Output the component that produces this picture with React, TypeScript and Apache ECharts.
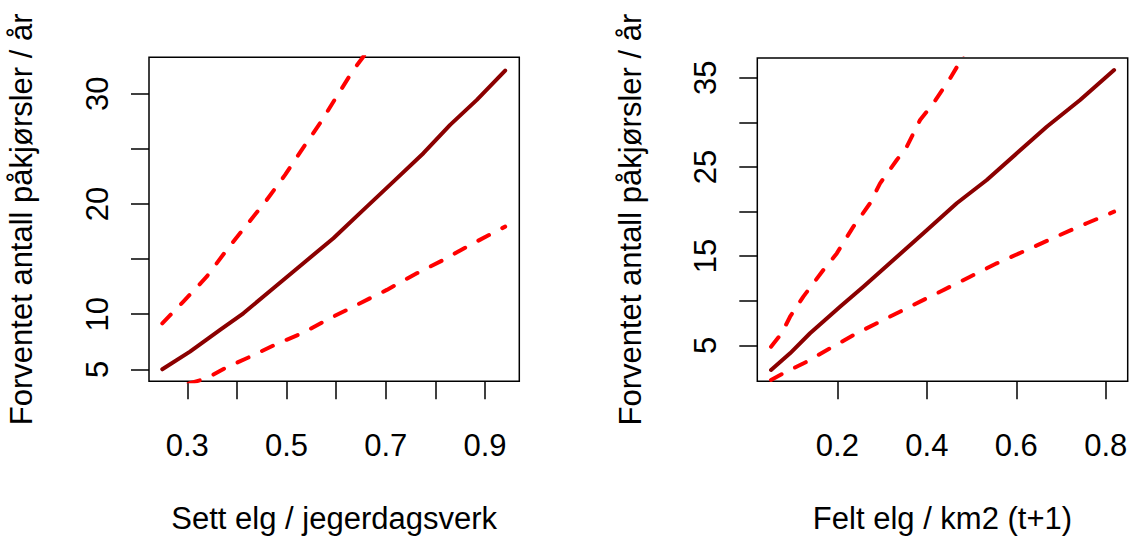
import React, { useEffect, useRef } from "react";
import * as echarts from "echarts";

// Left panel: Sett elg / jegerdagsverk
const sightFitX = [0.2496, 0.3054, 0.366, 0.413, 0.4734, 0.5339, 0.5944, 0.6548, 0.7153, 0.7758, 0.8296, 0.8835, 0.9405];
const sightFit = [5.0, 6.6, 8.57, 10.08, 12.35, 14.62, 16.89, 19.46, 22.02, 24.6, 27.17, 29.44, 32.1];
const sightUpperX = [0.2496, 0.292, 0.339, 0.3794, 0.4198, 0.46, 0.497, 0.5306, 0.5675, 0.601, 0.6347, 0.655, 0.7];
const sightUpper = [9.17, 11.13, 13.4, 15.83, 18.1, 20.36, 22.63, 24.9, 27.32, 29.74, 32.16, 33.37, 36.9];
const sightLowerX = [0.2496, 0.3054, 0.339, 0.3794, 0.4198, 0.4803, 0.5339, 0.5877, 0.6482, 0.702, 0.7625, 0.8161, 0.87, 0.9405];
const sightLower = [3.0, 3.73, 4.18, 5.18, 6.0, 7.3, 8.32, 9.63, 10.99, 12.2, 13.71, 14.92, 16.28, 17.94];

// Right panel: Felt elg / km2 (t+1)
const shotFitX = [0.0518, 0.0943, 0.139, 0.206, 0.2581, 0.3252, 0.3923, 0.4669, 0.534, 0.6011, 0.6681, 0.7426, 0.8186];
const shotFit = [2.23, 4.1, 6.35, 9.33, 11.57, 14.56, 17.56, 20.92, 23.53, 26.52, 29.5, 32.5, 35.86];
const shotUpperX = [0.0518, 0.0757, 0.0943, 0.124, 0.1687, 0.1987, 0.2358, 0.2731, 0.2955, 0.3328, 0.3551, 0.3849, 0.4146, 0.452, 0.4743, 0.5];
const shotUpper = [4.84, 6.35, 8.2, 10.45, 13.44, 15.3, 18.3, 20.92, 23.16, 25.77, 27.26, 30.26, 32.13, 34.93, 36.79, 39.5];
const shotLowerX = [0.0518, 0.0793, 0.1316, 0.1837, 0.2434, 0.3028, 0.3699, 0.4296, 0.4967, 0.5564, 0.6234, 0.6979, 0.7575, 0.8186];
const shotLower = [1.11, 1.86, 3.16, 4.66, 6.35, 7.84, 9.52, 11.0, 12.69, 14.19, 15.68, 17.37, 18.68, 19.98];

// Ticks and labels
const leftXTicks = [0.3, 0.4, 0.5, 0.6, 0.7, 0.8, 0.9];
const leftXLabels = [0.3, 0.5, 0.7, 0.9];
const leftYTicks = [5, 10, 15, 20, 25, 30];
const leftYLabels = [5, 10, 20, 30];
const rightXTicks = [0.2, 0.4, 0.6, 0.8];
const rightXLabels = [0.2, 0.4, 0.6, 0.8];
const rightYTicks = [5, 10, 15, 20, 25, 30, 35];
const rightYLabels = [5, 15, 25, 35];

const yTitle = "Forventet antall påkjørsler / år";
const leftXTitle = "Sett elg / jegerdagsverk";
const rightXTitle = "Felt elg / km2 (t+1)";

const FONT = "'Liberation Sans', Arial, Helvetica, sans-serif";
const FS = 31;

const zip = (xs: number[], ys: number[]) => xs.map((x, i) => [x, ys[i]]);

function xAxis(gridIndex: number, min: number, max: number, ticks: number[], labels: number[], name: string) {
  return {
    type: "value",
    gridIndex,
    min,
    max,
    name,
    nameLocation: "middle",
    nameGap: 122,
    nameTextStyle: { fontFamily: FONT, fontSize: FS, color: "#000" },
    axisLine: { show: false, onZero: false },
    splitLine: { show: false },
    axisTick: { show: true, inside: false, length: 18, customValues: ticks, lineStyle: { color: "#000", width: 1.5 } },
    axisLabel: {
      show: true,
      customValues: labels,
      margin: 49,
      fontFamily: FONT,
      fontSize: FS,
      color: "#000",
      formatter: (v: number) => String(v),
    },
  };
}

function yAxis(gridIndex: number, min: number, max: number, ticks: number[], labels: number[], name: string, gap: number) {
  return {
    type: "value",
    gridIndex,
    min,
    max,
    name,
    nameLocation: "middle",
    nameGap: gap,
    nameRotate: 90,
    nameTextStyle: { fontFamily: FONT, fontSize: FS, color: "#000" },
    axisLine: { show: false, onZero: false },
    splitLine: { show: false },
    axisTick: { show: true, inside: false, length: 18, customValues: ticks, lineStyle: { color: "#000", width: 1.5 } },
    axisLabel: {
      show: true,
      customValues: labels,
      rotate: 90,
      margin: 36,
      fontFamily: FONT,
      fontSize: FS,
      color: "#000",
      formatter: (v: number) => String(v),
    },
  };
}

function line(xi: number, data: number[][], dashed: boolean) {
  return {
    type: "line",
    xAxisIndex: xi,
    yAxisIndex: xi,
    data,
    showSymbol: false,
    symbol: "none",
    clip: true,
    lineStyle: dashed
      ? { color: "#FF0000", width: 4, type: [12, 15], cap: "round", join: "round" }
      : { color: "#8B0000", width: 4, type: "solid", cap: "round", join: "round" },
    silent: true,
  };
}

export default function App() {
  const ref = useRef<HTMLDivElement>(null);
  useEffect(() => {
    if (!ref.current) return;
    const chart = echarts.init(ref.current, undefined, { renderer: "svg" });
    chart.setOption({
      animation: false,
      backgroundColor: "#fff",
      grid: [
        { left: 149, top: 57.3, width: 370.3, height: 324, show: true, borderColor: "#000", borderWidth: 1.5, backgroundColor: "transparent" },
        { left: 757.3, top: 58, width: 370.4, height: 323.3, show: true, borderColor: "#000", borderWidth: 1.5, backgroundColor: "transparent" },
      ],
      xAxis: [
        xAxis(0, 0.2228, 0.969, leftXTicks, leftXLabels, leftXTitle),
        xAxis(1, 0.0211, 0.849, rightXTicks, rightXLabels, rightXTitle),
      ],
      yAxis: [
        yAxis(0, 3.91, 33.3, leftYTicks, leftYLabels, yTitle, 112.5),
        yAxis(1, 0.96, 37.21, rightYTicks, rightYLabels, yTitle, 111),
      ],
      series: [
        line(0, zip(sightUpperX, sightUpper), true),
        line(0, zip(sightLowerX, sightLower), true),
        line(0, zip(sightFitX, sightFit), false),
        line(1, zip(shotUpperX, shotUpper), true),
        line(1, zip(shotLowerX, shotLower), true),
        line(1, zip(shotFitX, shotFit), false),
      ],
    });
    return () => chart.dispose();
  }, []);
  return <div ref={ref} style={{ position: "fixed", left: 0, top: 0, width: 1133, height: 543, background: "#fff" }} />;
}
